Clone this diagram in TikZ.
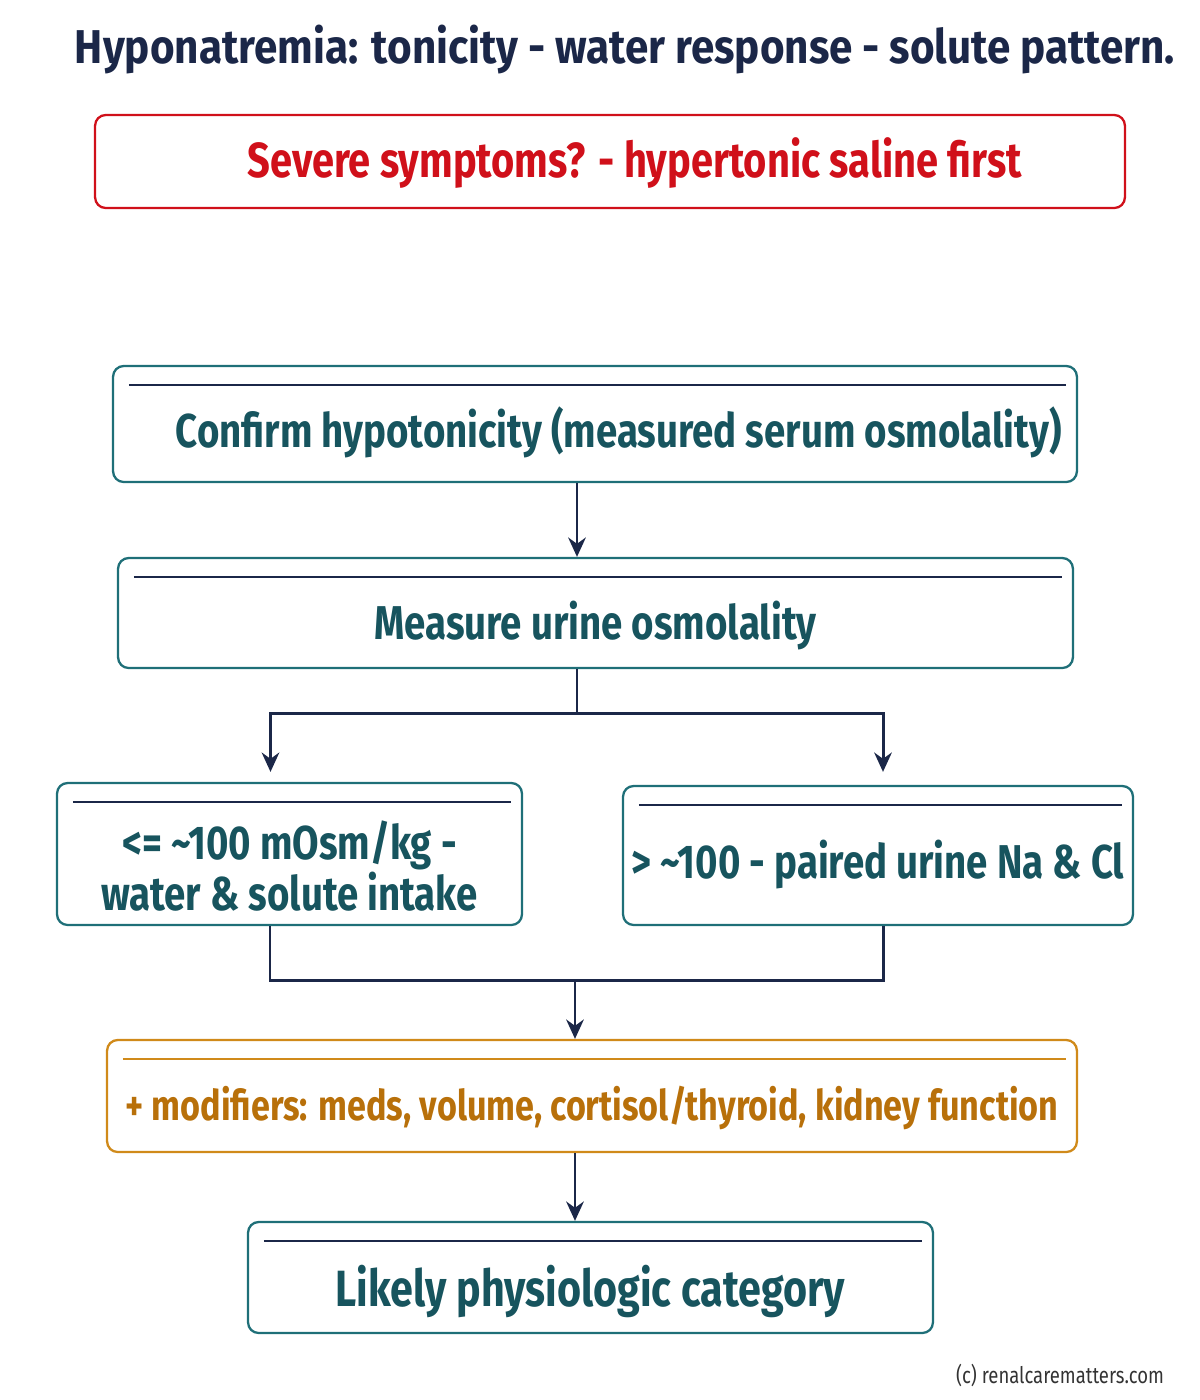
\documentclass[tikz,border=0pt]{standalone}
\usepackage{fontspec}
\setmainfont{Fira Sans}[FakeStretch=0.81]
\newfontfamily\titlefont{Fira Sans}[FakeStretch=0.89]
\usetikzlibrary{calc,positioning,arrows.meta}
\definecolor{navy}{HTML}{1B2748}
\definecolor{tealline}{HTML}{1F6F78}
\definecolor{tealtext}{HTML}{17545E}
\definecolor{alertred}{HTML}{D0101A}
\definecolor{modorange}{HTML}{D08A1A}
\definecolor{modtext}{HTML}{B8700A}
\tikzset{
  stepbox/.style={draw=tealline, line width=1.3pt, rounded corners=6pt, text=tealtext,
    font=\fontsize{27}{34}\selectfont\bfseries, align=center, inner sep=0pt},
  flow/.style={draw=navy, line width=1.7pt, -{Stealth[length=11pt,width=10pt]}},
  link/.style={draw=navy, line width=1.7pt},
}
\newcommand{\topline}[2]{\draw[#2, line width=0.9pt] ($(#1.north west)+(17,20)$) -- ($(#1.north east)+(-12,20)$);}
\newcommand{\lowered}[2]{\raisebox{-#1}[\height][\depth]{#2}}
\begin{document}
\begin{tikzpicture}[x=0.02cm, y=-0.02cm]
  \useasboundingbox (0,0) rectangle (1200,1400);
  %%%%% TITLE %%%%%
  \node[text=navy, font=\titlefont\fontsize{27}{32}\selectfont\bfseries] (title) at (625,50)
    {Hyponatremia: tonicity - water response - solute pattern.};
  \node[stepbox, draw=alertred, text=alertred, font=\fontsize{28}{34}\selectfont\bfseries,
    minimum width=20.6cm, minimum height=1.86cm]
    (alert) at (610,161.5) {\lowered{1pt}{\quad Severe symptoms? - hypertonic saline first}};
  %%%%% STEPS %%%%%
  \node[stepbox, minimum width=19.28cm, minimum height=2.32cm] (conf) at (595,424)
    {\lowered{5pt}{\quad Confirm hypotonicity (measured serum osmolality)}};
  \node[stepbox, minimum width=19.1cm, minimum height=2.2cm] (uosm) at (595.5,613)
    {\lowered{7pt}{Measure urine osmolality}};
  \node[stepbox, minimum width=9.3cm, minimum height=2.84cm] (low) at (289.5,854)
    {\lowered{7pt}{\shortstack{<= \textasciitilde100 mOsm/kg -\\[-2pt]water \& solute intake}}};
  \node[stepbox, minimum width=10.2cm, minimum height=2.78cm] (high) at (878,855.5)
    {\lowered{5pt}{> \textasciitilde100 - paired urine Na \& Cl}};
  \node[stepbox, draw=modorange, text=modtext, font=\fontsize{24}{30}\selectfont\bfseries,
    minimum width=19.4cm, minimum height=2.24cm] (mods) at (592,1096)
    {\lowered{7pt}{+ modifiers: meds, volume, cortisol/thyroid, kidney function}};
  \node[stepbox, font=\fontsize{29}{34}\selectfont\bfseries,
    minimum width=13.7cm, minimum height=2.22cm] (cat) at (590.5,1277.5)
    {\lowered{8pt}{Likely physiologic category}};
  \foreach \b in {conf,uosm,low,high,cat} {\topline{\b}{navy}}
  \topline{mods}{modorange}
  %%%%% CONNECTORS %%%%%
  \coordinate (split) at (577,713);
  \coordinate (join) at (575,980);
  \draw[flow] (conf.south -| split) -- (uosm.north -| split);
  \draw[link] (uosm.south -| split) -- (split);
  \draw[flow] (split) -| ($(low.north)+(-19,-10)$);
  \draw[flow] (split) -| ($(high.north)+(5,-13)$);
  \draw[link] (low.south -| 270,0) |- (join) -| (high.south -| 883,0);
  \draw[flow] (join) -- (mods.north -| join);
  \draw[flow] (mods.south -| join) -- (cat.north -| join);
  %%%%% FOOTER %%%%%
  \node[font=\fontsize{13}{15}\selectfont, text=black!80] (credit) at (1060,1375) {(c) renalcarematters.com};
\end{tikzpicture}
\end{document}
